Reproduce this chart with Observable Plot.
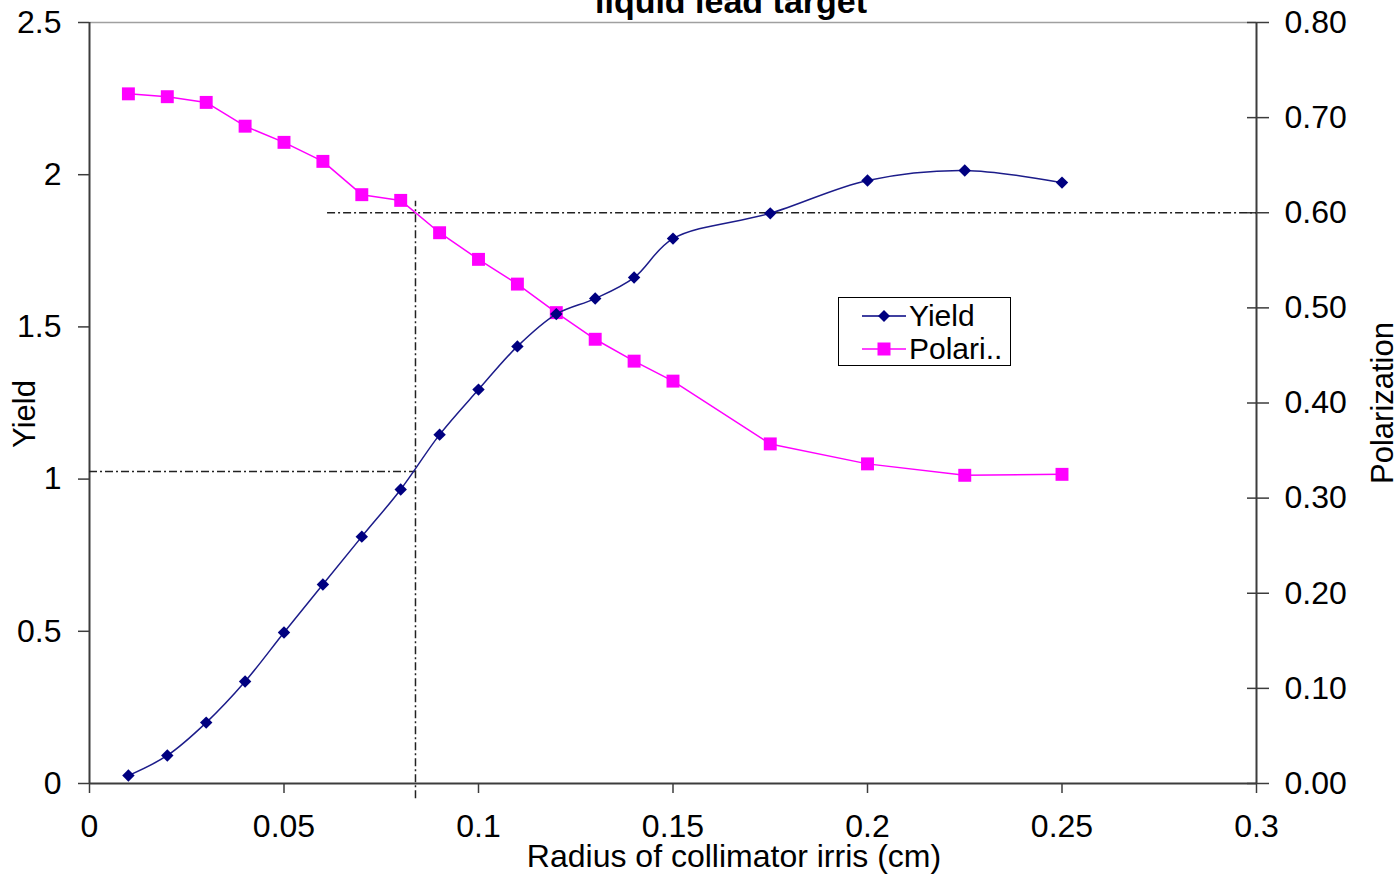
<!DOCTYPE html>
<html>
<head>
<meta charset="utf-8">
<script src="https://cdn.jsdelivr.net/npm/d3@7"></script>
<script src="https://cdn.jsdelivr.net/npm/@observablehq/plot@0.6"></script>
<style>
  html, body { margin: 0; padding: 0; background: #fff; }
  #chart { position: relative; width: 1398px; height: 874px; overflow: hidden; font-family: "Liberation Sans", Arial, sans-serif; }
  #legend {
    position: absolute; left: 838px; top: 297px; width: 173px; height: 69px;
    box-sizing: border-box; border: 1.5px solid #000; background: #fff;
    font-size: 30px; line-height: 33px; padding-top: 1px;
  }
  #legend .row { display: flex; align-items: center; height: 33px; }
  #legend svg { margin-left: 23px; margin-right: 3px; }
</style>
</head>
<body>
<div id="chart"></div>
<script>
// Collimator iris radius (cm) and the two measured series
const radius = [0.01, 0.02, 0.03, 0.04, 0.05, 0.06, 0.07, 0.08, 0.09, 0.10, 0.11, 0.12, 0.13, 0.14, 0.15, 0.175, 0.20, 0.225, 0.25];
const yieldValues = [0.026, 0.092, 0.200, 0.335, 0.496, 0.654, 0.811, 0.966, 1.146, 1.294, 1.436, 1.542, 1.593, 1.662, 1.790, 1.873, 1.981, 2.014, 1.974];
const polarization = [0.725, 0.722, 0.716, 0.691, 0.674, 0.654, 0.619, 0.613, 0.579, 0.551, 0.525, 0.495, 0.467, 0.444, 0.423, 0.357, 0.336, 0.324, 0.325];

// Axis ticks
const xTicks = [0, 0.05, 0.1, 0.15, 0.2, 0.25, 0.3];
const yieldTicks = [0, 0.5, 1, 1.5, 2, 2.5];
const polTicks = [0, 0.1, 0.2, 0.3, 0.4, 0.5, 0.6, 0.7, 0.8];

// Dash-dot guide lines: operating radius, yield there, and the 0.60 polarization level
const guideRadius = [0.0838];
const guideRadiusSpan = [-0.05, 0.612];      // yield from / polarization to
const guideYield = [1.025];
const guidePolarization = [0.60];
const guidePolarizationFrom = [0.0612];

// Polarization is drawn on the yield scale: 0.80 on the right equals 2.5 on the left
const k = 2.5 / 0.8;

const data = radius.map((r, i) => ({r, y: yieldValues[i], p: polarization[i]}));

const navy = "#000080";
const magenta = "#ff00ff";
const axisColor = "#3c3c3c";
const dashDot = "8,3,2,3";

const chart = Plot.plot({
  width: 1398,
  height: 874,
  marginLeft: 89,
  marginRight: 142,
  marginTop: 22,
  marginBottom: 91,
  style: {fontFamily: "'Liberation Sans', Arial, sans-serif", fontSize: "32px", color: "#000", background: "#fff", overflow: "visible"},
  x: {domain: [0, 0.3]},
  y: {domain: [0, 2.5]},
  marks: [
    // frame: light top edge, dark axis lines
    Plot.ruleY([2.5], {stroke: "#a0a0a0", strokeWidth: 1.5}),
    Plot.ruleY([0], {stroke: axisColor, strokeWidth: 2}),
    Plot.ruleX([0], {stroke: axisColor, strokeWidth: 2}),
    Plot.ruleX([0.3], {stroke: axisColor, strokeWidth: 2}),

    // axes
    Plot.axisX({ticks: xTicks, tickFormat: d => String(d), tickSize: 10, tickPadding: 21, label: null, stroke: axisColor, strokeWidth: 1.5}),
    Plot.axisY({ticks: yieldTicks, tickFormat: d => String(d), tickSize: 11, tickPadding: 17, label: null, stroke: axisColor, strokeWidth: 1.5}),
    Plot.axisY({anchor: "right", ticks: polTicks.map(p => p * k), tickFormat: d => (d / k).toFixed(2),
      tickSize: 22, tickPadding: 16, dx: -10, label: null, stroke: axisColor, strokeWidth: 1.5}),

    // guides
    Plot.ruleX(guideRadius, {y1: guideRadiusSpan[0], y2: guideRadiusSpan[1] * k, stroke: "#222", strokeWidth: 1.5, strokeDasharray: dashDot}),
    Plot.ruleY(guideYield, {x1: 0, x2: guideRadius[0], stroke: "#222", strokeWidth: 1.5, strokeDasharray: dashDot}),
    Plot.ruleY(guidePolarization.map(p => p * k), {x1: guidePolarizationFrom[0], x2: 0.3, stroke: "#222", strokeWidth: 1.5, strokeDasharray: dashDot}),

    // polarization series
    Plot.line(data, {x: "r", y: d => d.p * k, stroke: magenta, strokeWidth: 1.5}),
    Plot.dot(data, {x: "r", y: d => d.p * k, symbol: "square", r: 7.3, fill: magenta}),

    // yield series (smoothed)
    Plot.line(data, {x: "r", y: "y", stroke: "#1c1c8a", strokeWidth: 1.5, curve: "catmull-rom"}),
    Plot.dot(data, {x: "r", y: "y", symbol: "diamond2", r: 5.6, fill: navy}),

    // titles
    Plot.text(["liquid lead target"], {frameAnchor: "top", dx: 58, dy: -10, lineAnchor: "bottom", textAnchor: "middle", fontSize: 34, fontWeight: "bold", fill: "#000"}),
    Plot.text(["Radius of collimator irris (cm)"], {frameAnchor: "bottom", dx: 61, dy: 73, lineAnchor: "middle", textAnchor: "middle", fontSize: 32, fill: "#000"}),
    Plot.text(["Yield"], {frameAnchor: "left", dx: -64, dy: 11, rotate: -90, lineAnchor: "middle", textAnchor: "middle", fontSize: 31, fill: "#000"}),
    Plot.text(["Polarization"], {frameAnchor: "right", dx: 127, dy: 0, rotate: -90, lineAnchor: "middle", textAnchor: "middle", fontSize: 31, fill: "#000"})
  ]
});

const container = document.getElementById("chart");
container.appendChild(chart);

// legend box inside the plotting area
const legend = document.createElement("div");
legend.id = "legend";
legend.innerHTML = `
  <div class="row"><svg width="44" height="16"><line x1="0" y1="8" x2="44" y2="8" stroke="${navy}" stroke-width="1.5"/><path d="M22,2 L28,8 L22,14 L16,8 Z" fill="${navy}"/></svg><span>Yield</span></div>
  <div class="row"><svg width="44" height="16"><line x1="0" y1="8" x2="44" y2="8" stroke="${magenta}" stroke-width="1.5"/><rect x="15.5" y="1.5" width="13" height="13" fill="${magenta}"/></svg><span>Polari..</span></div>`;
container.appendChild(legend);
</script>
</body>
</html>
